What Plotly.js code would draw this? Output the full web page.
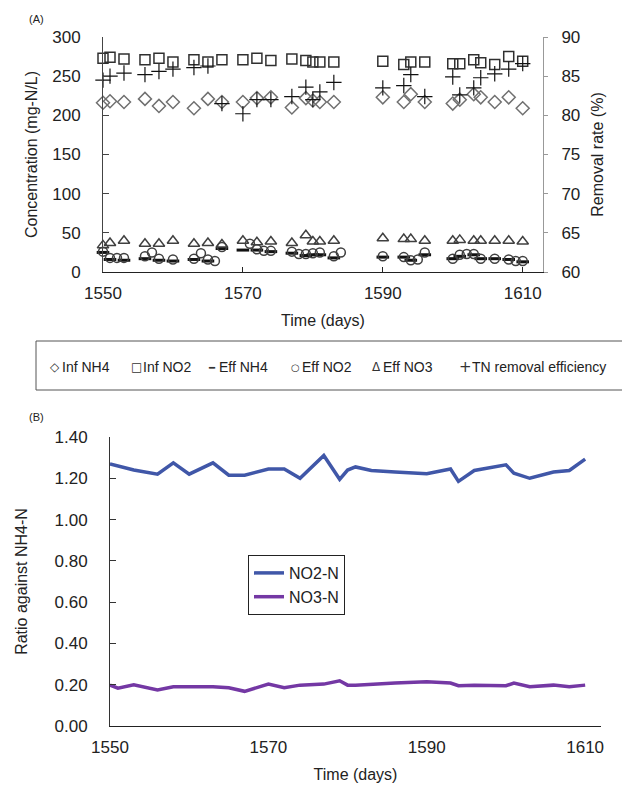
<!DOCTYPE html>
<html>
<head>
<meta charset="utf-8">
<script src="https://cdn.plot.ly/plotly-3.0.1.min.js"></script>
<style>html,body{margin:0;padding:0;background:#fff;}#chart{width:622px;height:792px;}</style>
</head>
<body>
<div id="chart"></div>
<script>
// ---------- Panel (A) data ----------
const seriesNamesA = ['Inf NH4', 'Inf NO2', 'Eff NH4', 'Eff NO2', 'Eff NO3', 'TN removal efficiency'];
const daysA = [1550,1551,1553,1556,1558,1560,1563,1565,1567,1570,1572,1574,1577,1579,1580,1581,1583,1590,1593,1594,1596,1600,1601,1603,1604,1606,1608,1610,1613];
const infNH4 = [216,218,217,221,212,217,209,221,217,217,222,223,210,222,219,217,217,223,217,227,217,215,220,227,223,217,223,209,228];
const infNO2 = [273,274,272,271,273,268,271,268,271,271,273,270,272,270,268,268,268,269,265,268,268,266,266,271,267,265,275,269,269];
const effNH4 = [25,16,15,17,15,14,16,14,30,28,28,26,24,21,22,22,18,19,19,15,22,17,20,22,17,17,16,13,16];
const effNO3 = [34,37,40,36,36,40,36,37,35,40,38,39,37,47,39,39,40,43,42,42,40,40,41,40,40,40,40,39,45];
const tnRemoval = [84.5,85.0,85.4,85.2,85.6,85.9,86.1,86.3,81.5,80.2,82.0,82.0,82.4,83.6,82.0,83.0,84.2,83.5,83.8,85.2,82.4,84.9,82.6,83.5,84.8,85.3,85.9,86.6,null];
const effNO2Days = [1550,1551,1552,1553,1556,1557,1558,1560,1563,1564,1565,1566,1567,1571,1572,1573,1574,1577,1578,1579,1580,1581,1583,1584,1590,1593,1594,1595,1596,1600,1601,1602,1603,1604,1606,1608,1609,1610,1613];
const effNO2 = [26,18,18,18,20,25,17,16,17,24,16,14,32,36,29,27,27,26,23,23,24,25,20,25,20,19,15,16,25,17,22,23,23,17,17,16,14,14,16];

// ---------- Panel (B) data ----------
const seriesNamesB = ['NO2-N', 'NO3-N'];
const daysB = [1550,1551,1553,1556,1558,1560,1563,1565,1567,1570,1572,1574,1577,1579,1580,1581,1583,1586,1590,1593,1594,1596,1600,1601,1603,1606,1608,1610];
const no2Ratio = [1.27,1.26,1.24,1.22,1.275,1.22,1.275,1.215,1.215,1.245,1.245,1.20,1.31,1.195,1.24,1.255,1.238,1.23,1.222,1.245,1.185,1.238,1.265,1.225,1.20,1.23,1.238,1.293];
const no3Ratio = [0.198,0.183,0.20,0.175,0.19,0.19,0.19,0.185,0.168,0.203,0.185,0.198,0.203,0.219,0.198,0.198,0.203,0.208,0.214,0.208,0.195,0.198,0.195,0.208,0.19,0.198,0.19,0.198];

const xTicks = [1550,1570,1590,1610];
const yTicksA = [0,50,100,150,200,250,300];
const yTicksA2 = [60,65,70,75,80,85,90];
const yTicksB = [0,0.2,0.4,0.6,0.8,1.0,1.2,1.4];

// ---------- layout helpers (pixel -> paper) ----------
const W = 622, H = 792;
const px = v => v / W;
const py = v => 1 - v / H;
const FONT = 'Liberation Sans, Arial, sans-serif';

const mk = (sym, size, color, lw) => ({symbol: sym, size: size, color: color, line: {color: color, width: lw}});

const traces = [
  {x: daysA, y: infNH4, name: seriesNamesA[0], type: 'scatter', mode: 'markers', xaxis: 'x', yaxis: 'y', showlegend: false,
   marker: mk('diamond-open', 10, '#707070', 1.5), cliponaxis: false},
  {x: daysA, y: infNO2, name: seriesNamesA[1], type: 'scatter', mode: 'markers', xaxis: 'x', yaxis: 'y', showlegend: false,
   marker: mk('square-open', 10, '#303030', 1.5), cliponaxis: false},
  {x: daysA, y: effNH4, name: seriesNamesA[2], type: 'scatter', mode: 'markers', xaxis: 'x', yaxis: 'y', showlegend: false,
   marker: mk('line-ew', 9, '#111111', 3), cliponaxis: false},
  {x: effNO2Days, y: effNO2, name: seriesNamesA[3], type: 'scatter', mode: 'markers', xaxis: 'x', yaxis: 'y', showlegend: false,
   marker: mk('circle-open', 9, '#404040', 1.5), cliponaxis: false},
  {x: daysA, y: effNO3, name: seriesNamesA[4], type: 'scatter', mode: 'markers', xaxis: 'x', yaxis: 'y', showlegend: false,
   marker: mk('triangle-up-open', 10, '#404040', 1.5), cliponaxis: false},
  {x: daysA, y: tnRemoval, name: seriesNamesA[5], type: 'scatter', mode: 'markers', xaxis: 'x', yaxis: 'y2', showlegend: false,
   marker: mk('cross-thin-open', 11, '#111111', 1.2), cliponaxis: false},
  {x: daysB, y: no2Ratio, name: seriesNamesB[0], type: 'scatter', mode: 'lines', xaxis: 'x2', yaxis: 'y3', legend: 'legend2',
   line: {color: '#4057a8', width: 3.5}},
  {x: daysB, y: no3Ratio, name: seriesNamesB[1], type: 'scatter', mode: 'lines', xaxis: 'x2', yaxis: 'y3', legend: 'legend2',
   line: {color: '#7438a4', width: 3.5}}
];

const tickFont = {family: FONT, size: 17, color: '#222'};
const titleFont = {family: FONT, size: 16, color: '#222'};

// Legend (A): compact row of symbol + label inside a bordered box
const legendA = {
  symbols: ['\u25C7', '\u25A1', '\u2501', '\u25CB', '\u0394', '+'],
  symbolSizes: [12, 12, 10, 10, 12, 15],
  centers: [55, 136, 212, 295, 376, 465],
  textY: 367
};
const legendAnn = [];
seriesNamesA.forEach((name, i) => {
  const cx = legendA.centers[i];
  legendAnn.push({text: legendA.symbols[i], x: px(cx), y: py(legendA.textY), xref: 'paper', yref: 'paper',
    xanchor: 'center', yanchor: 'middle', showarrow: false,
    font: {family: 'DejaVu Sans, sans-serif', size: legendA.symbolSizes[i], color: '#333'}});
  legendAnn.push({text: name, x: px(cx + 5), y: py(legendA.textY), xref: 'paper', yref: 'paper',
    xanchor: 'left', yanchor: 'middle', showarrow: false,
    font: {family: FONT, size: 14, color: '#222'}});
});

const layout = {
  width: W, height: H,
  margin: {l: 0, r: 0, t: 0, b: 0},
  paper_bgcolor: '#fff', plot_bgcolor: '#fff',
  font: {family: FONT, color: '#222'},
  showlegend: true,
  xaxis: {
    domain: [px(103), px(543)], range: [1550, 1612.9], anchor: 'y',
    tickvals: xTicks, ticks: 'inside', ticklen: 5, tickcolor: '#222',
    showline: true, linecolor: '#222', linewidth: 1, showgrid: false, zeroline: false,
    tickfont: tickFont, ticklabelstandoff: 6,
    title: {text: 'Time (days)', font: titleFont, standoff: 12}, automargin: false
  },
  yaxis: {
    domain: [py(272), py(37)], range: [0, 300], anchor: 'x',
    tickvals: yTicksA, ticks: 'inside', ticklen: 6, tickcolor: '#444',
    showline: true, linecolor: '#444', linewidth: 1, showgrid: false, zeroline: false,
    tickfont: tickFont, ticklabelstandoff: 18,
    title: {text: 'Concentration (mg-N/L)', font: titleFont, standoff: 10}, automargin: false
  },
  yaxis2: {
    overlaying: 'y', side: 'right', anchor: 'x', range: [60, 90],
    tickvals: yTicksA2, ticks: 'outside', ticklen: 4, tickcolor: '#999',
    showline: true, linecolor: '#999', linewidth: 1, showgrid: false, zeroline: false,
    tickfont: tickFont, ticklabelstandoff: 10,
    title: {text: 'Removal rate (%)', font: titleFont, standoff: 12}, automargin: false
  },
  xaxis2: {
    domain: [px(110), px(601)], range: [1550, 1612], anchor: 'y3',
    tickvals: xTicks, ticks: '',
    showline: true, linecolor: '#222', linewidth: 1, showgrid: false, zeroline: false,
    tickfont: tickFont, ticklabelstandoff: 6,
    title: {text: 'Time (days)', font: titleFont, standoff: 12}, automargin: false
  },
  yaxis3: {
    domain: [py(726), py(437)], range: [0, 1.4], anchor: 'x2',
    tickvals: yTicksB, tickformat: '.2f', ticks: 'inside', ticklen: 6, tickcolor: '#333',
    showline: true, linecolor: '#333', linewidth: 1, showgrid: false, zeroline: false,
    tickfont: tickFont, ticklabelstandoff: 18,
    title: {text: 'Ratio against NH4-N', font: titleFont, standoff: 22}, automargin: false
  },
  legend2: {
    orientation: 'v', x: px(248), y: py(555), xanchor: 'left', yanchor: 'top',
    bordercolor: '#222', borderwidth: 1, bgcolor: '#fff',
    font: {family: FONT, size: 16, color: '#222'},
    itemwidth: 30
  },
  shapes: [
    {type: 'rect', xref: 'paper', yref: 'paper', x0: px(36), x1: px(640), y0: py(341), y1: py(390),
     line: {color: '#555', width: 1}, fillcolor: 'rgba(0,0,0,0)'}
  ],
  annotations: [
    {text: '(A)', x: px(36), y: py(19), xref: 'paper', yref: 'paper', xanchor: 'center', yanchor: 'middle', showarrow: false, font: {family: FONT, size: 11, color: '#222'}},
    {text: '(B)', x: px(36), y: py(417), xref: 'paper', yref: 'paper', xanchor: 'center', yanchor: 'middle', showarrow: false, font: {family: FONT, size: 11, color: '#222'}}
  ].concat(legendAnn)
};

Plotly.newPlot('chart', traces, layout, {displayModeBar: false, staticPlot: true});
</script>
</body>
</html>
